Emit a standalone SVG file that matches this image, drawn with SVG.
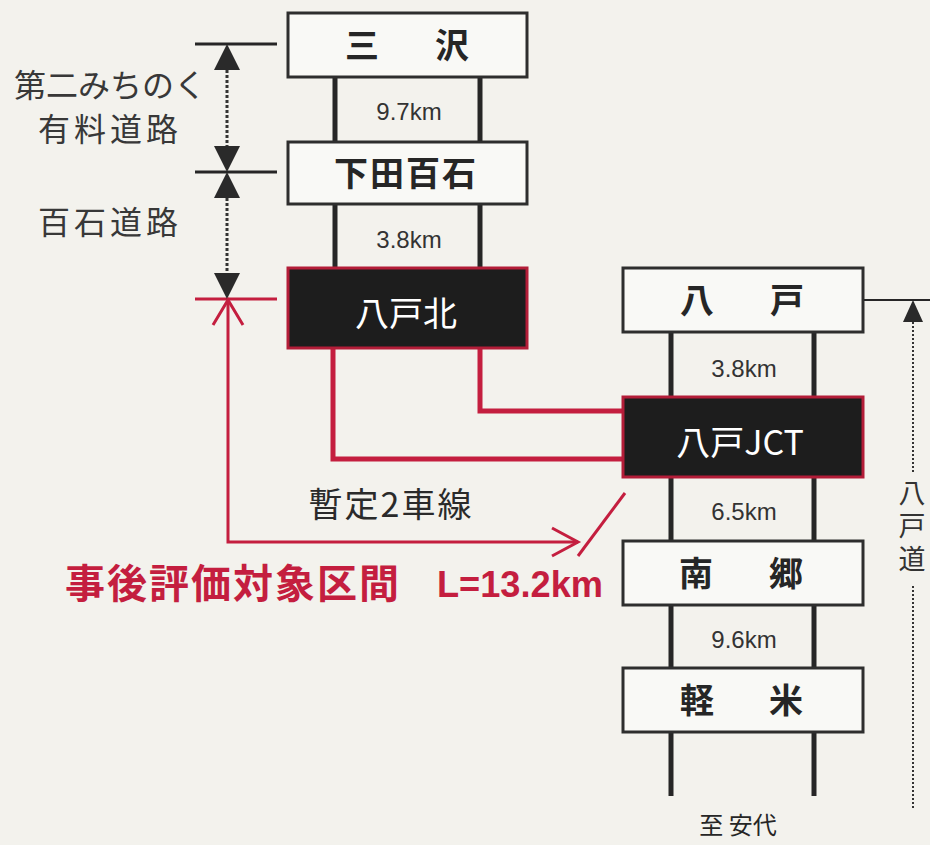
<svg xmlns="http://www.w3.org/2000/svg" width="930" height="845" viewBox="0 0 930 845">
<defs>
<style>
.bg{fill:#f3f2ed}
.box{fill:#f9f9f6;stroke:#2e2e2e;stroke-width:3}
.dbox{fill:#1d1d1d;stroke:#b31d38;stroke-width:3}
.road{stroke:#262626;stroke-width:5;fill:none}
.red{stroke:#c41e3f;fill:none}
.lbl{font-family:"Noto Sans CJK JP","Noto Sans",sans-serif;font-size:34px;font-weight:bold;fill:#262626;text-anchor:middle}
.wlbl{font-family:"Noto Sans CJK JP","Noto Sans",sans-serif;font-size:34px;fill:#ffffff;text-anchor:middle}
.km{font-family:"Liberation Sans",Arial,sans-serif;font-size:24px;fill:#333;text-anchor:middle}
.note{font-family:"Noto Sans CJK JP",sans-serif;font-size:32px;fill:#383838;text-anchor:middle}
.vt{font-family:"Noto Sans CJK JP",sans-serif;font-size:27px;fill:#333;writing-mode:vertical-rl;letter-spacing:6px}
.dot{stroke:#333;stroke-width:3;stroke-dasharray:3 2;fill:none}
.tick{stroke:#262626;stroke-width:3}
.tri{fill:#2a2a2a}
</style>
</defs>
<rect class="bg" x="0" y="0" width="930" height="845"/>

<g id="roads">
<line class="road" x1="335" y1="70" x2="335" y2="270"/>
<line class="road" x1="480" y1="70" x2="480" y2="270"/>
<line class="road" x1="671" y1="330" x2="671" y2="796"/>
<line class="road" x1="814" y1="330" x2="814" y2="796"/>
</g>

<g id="connectors">
<polyline class="red" stroke-width="5" points="333,348 333,459 624,459"/>
<polyline class="red" stroke-width="5" points="480,348 480,411 624,411"/>
</g>

<g id="node-misawa">
<rect class="box" x="288" y="13" width="239" height="64"/>
<text class="lbl" x="362" y="58">三</text>
<text class="lbl" x="452" y="58">沢</text>
</g>
<text class="km" x="409" y="120">9.7km</text>

<g id="node-shimoda">
<rect class="box" x="288" y="142" width="239" height="62"/>
<text class="lbl" x="406" y="186" letter-spacing="2">下田百石</text>
</g>
<text class="km" x="409" y="248">3.8km</text>

<g id="node-hachinohekita">
<rect class="dbox" x="288" y="268" width="239" height="80"/>
<text class="wlbl" x="406" y="326">八戸北</text>
</g>

<g id="node-hachinohe">
<rect class="box" x="623" y="268" width="240" height="64"/>
<text class="lbl" x="697" y="313">八</text>
<text class="lbl" x="787" y="313">戸</text>
</g>
<text class="km" x="744" y="377">3.8km</text>

<g id="node-jct">
<rect class="dbox" x="623" y="397" width="240" height="80"/>
<text class="wlbl" x="740" y="455">八戸JCT</text>
</g>
<text class="km" x="744" y="520">6.5km</text>

<g id="node-nango">
<rect class="box" x="623" y="541" width="240" height="64"/>
<text class="lbl" x="696" y="586">南</text>
<text class="lbl" x="786" y="586">郷</text>
</g>
<text class="km" x="744" y="648">9.6km</text>

<g id="node-karumai">
<rect class="box" x="623" y="668" width="240" height="64"/>
<text class="lbl" x="697" y="713">軽</text>
<text class="lbl" x="786" y="713">米</text>
</g>

<text x="738" y="834" font-family="Noto Sans CJK JP,sans-serif" font-size="24" fill="#262626" text-anchor="middle">至 安代</text>

<g id="left-dimension">
<line class="tick" x1="195" y1="44" x2="277" y2="44"/>
<line class="tick" x1="195" y1="172" x2="277" y2="172"/>
<line class="red" stroke-width="3" x1="195" y1="299" x2="277" y2="299"/>
<line class="dot" x1="227" y1="70" x2="227" y2="146"/>
<line class="dot" x1="227" y1="198" x2="227" y2="273"/>
<polygon class="tri" points="227,44 214,70 240,70"/>
<polygon class="tri" points="227,172 214,146 240,146"/>
<polygon class="tri" points="227,172 214,198 240,198"/>
<polygon class="tri" points="227,299 214,273 240,273"/>
<text class="note" x="110" y="97" letter-spacing="0">第二みちのく</text>
<text class="note" x="110" y="141" letter-spacing="4">有料道路</text>
<text class="note" x="110" y="234" letter-spacing="4">百石道路</text>
</g>

<g id="eval-section">
<polyline class="red" stroke-width="3" points="228,300 228,542 578,542"/>
<polyline class="red" stroke-width="3" points="213,325 228,300 243,325"/>
<polyline class="red" stroke-width="3" points="552,528 578,542 552,556"/>
<line class="red" stroke-width="3" x1="578" y1="556" x2="625" y2="493"/>
<text x="391" y="517" font-family="Noto Sans CJK JP,sans-serif" font-size="34" fill="#2a2a2a" text-anchor="middle" letter-spacing="2">暫定2車線</text>
<text x="65" y="598" font-family="Noto Sans CJK JP,sans-serif" font-size="40" font-weight="bold" fill="#c41e3f" letter-spacing="2">事後評価対象区間</text>
<text x="437" y="597" font-family="Liberation Sans,Arial,sans-serif" font-size="37" font-weight="bold" fill="#c41e3f" textLength="166" lengthAdjust="spacingAndGlyphs">L=13.2km</text>
</g>

<g id="right-dimension">
<line stroke="#262626" stroke-width="2" x1="864" y1="300" x2="930" y2="300"/>
<polygon class="tri" points="913,300 903,322 923,322"/>
<line stroke="#333" stroke-width="2" stroke-dasharray="2 2" x1="913" y1="322" x2="913" y2="472"/>
<line stroke="#333" stroke-width="2" stroke-dasharray="2 2" x1="913" y1="586" x2="913" y2="808"/>
<text class="vt" x="912" y="479">八戸道</text>
</g>
</svg>
